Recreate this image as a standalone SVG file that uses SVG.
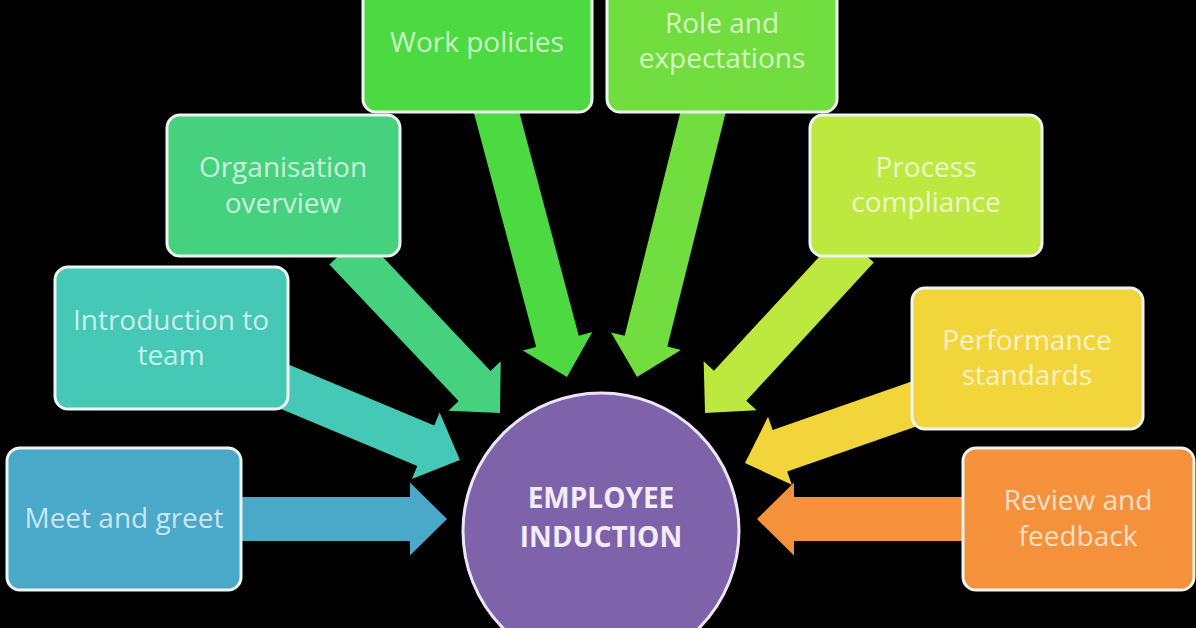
<svg xmlns="http://www.w3.org/2000/svg" width="1196" height="628" viewBox="0 0 1196 628">
<style>
.box{stroke:#eef5f0;stroke-width:3}
.lbl{font-family:"Open Sans","Liberation Sans",sans-serif;font-size:28px;fill:#ffffff;fill-opacity:0.72;text-anchor:middle}
.hub{font-family:"Open Sans","Liberation Sans",sans-serif;font-size:28px;font-weight:bold;fill:#f3ecfb;text-anchor:middle}
</style>
<rect x="0" y="0" width="1196" height="628" fill="#000"/>
<g id="connectors">
<polygon fill="#4aa8c9" transform="translate(235,519)" points="0,-22 175,-22 175,-36.5 212,0 175,36.5 175,22 0,22"/>
<polygon fill="#45c8b5" transform="translate(280,384.7) rotate(22.7)" points="0,-22 158,-22 158,-36 195,0 158,36 158,22 0,22"/>
<polygon fill="#46d17f" transform="translate(345.4,249.4) rotate(46.6)" points="0,-22 188,-22 188,-36 225,0 188,36 188,22 0,22"/>
<polygon fill="#4cd941" transform="translate(495,106.5) rotate(75.1)" points="0,-22 243,-22 243,-36 280,0 243,36 243,22 0,22"/>
<polygon fill="#71dd3e" transform="translate(704.8,105.4) rotate(104)" points="0,-22 243,-22 243,-36 280,0 243,36 243,22 0,22"/>
<polygon fill="#bde83f" transform="translate(857.6,247.6) rotate(132.7)" points="0,-22 188,-22 188,-36 225,0 188,36 188,22 0,22"/>
<polygon fill="#f2d43b" transform="translate(919.6,401.9) rotate(160.7)" points="0,-22 148,-22 148,-36 185,0 148,36 148,22 0,22"/>
<polygon fill="#f4913a" transform="translate(970,519) rotate(180)" points="0,-22 176,-22 176,-36.5 213,0 176,36.5 176,22 0,22"/>
</g>
<g id="meet">
<rect class="box" x="7" y="448" width="234" height="142" rx="13" fill="#4aa8c9"/>
<text class="lbl" x="124" y="528">Meet and greet</text>
</g>
<g id="intro">
<rect class="box" x="55" y="267" width="233" height="142" rx="13" fill="#45c8b5"/>
<text class="lbl" x="171" y="330">Introduction to</text>
<text class="lbl" x="171" y="365">team</text>
</g>
<g id="org">
<rect class="box" x="167" y="115" width="233" height="141" rx="13" fill="#46d17f"/>
<text class="lbl" x="283" y="177">Organisation</text>
<text class="lbl" x="283" y="213">overview</text>
</g>
<g id="work">
<rect class="box" x="363" y="-20" width="229" height="132" rx="13" fill="#4cd941"/>
<text class="lbl" x="477" y="52">Work policies</text>
</g>
<g id="role">
<rect class="box" x="607" y="-20" width="230" height="132" rx="13" fill="#71dd3e"/>
<text class="lbl" x="722" y="33">Role and</text>
<text class="lbl" x="722" y="68">expectations</text>
</g>
<g id="process">
<rect class="box" x="810" y="115" width="232" height="141" rx="13" fill="#bde83f"/>
<text class="lbl" x="926" y="177">Process</text>
<text class="lbl" x="926" y="212">compliance</text>
</g>
<g id="performance">
<rect class="box" x="912" y="288" width="231" height="141" rx="13" fill="#f2d43b"/>
<text class="lbl" x="1027" y="350">Performance</text>
<text class="lbl" x="1027" y="385">standards</text>
</g>
<g id="review">
<rect class="box" x="963" y="448" width="231" height="142" rx="13" fill="#f4913a"/>
<text class="lbl" x="1078" y="510">Review and</text>
<text class="lbl" x="1078" y="546">feedback</text>
</g>
<g id="hub">
<circle cx="601" cy="531" r="138" fill="#7e62aa" stroke="#ece6f4" stroke-width="3"/>
<text class="hub" x="601" y="508">EMPLOYEE</text>
<text class="hub" x="601" y="547">INDUCTION</text>
</g>
</svg>
